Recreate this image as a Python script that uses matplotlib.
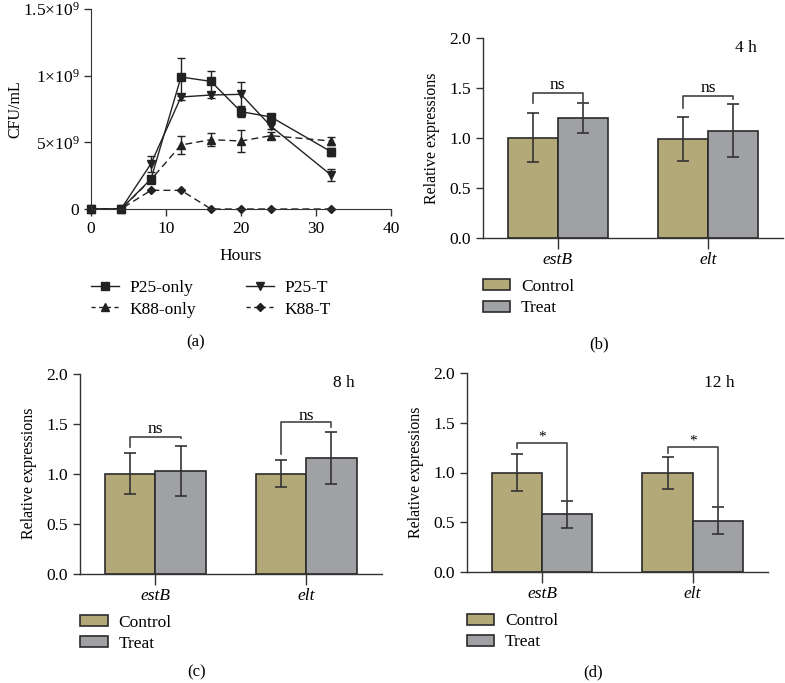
import matplotlib
matplotlib.use("Agg")
import matplotlib.pyplot as plt
from matplotlib.lines import Line2D
from matplotlib.patches import Patch
import numpy as np

plt.rcParams['font.family'] = ['Liberation Serif', 'DejaVu Serif']
plt.rcParams['mathtext.fontset'] = 'custom'
plt.rcParams['mathtext.rm'] = 'Liberation Serif'
plt.rcParams['mathtext.it'] = 'Liberation Serif:italic'
plt.rcParams['font.size'] = 12.5

# ---------------- data: panel (a) growth curves (CFU/mL, x1e9) ----------------
hours = [0, 4, 8, 12, 16, 20, 24, 32]
p25_only = [0, 0, 0.225, 0.99, 0.957, 0.73, 0.69, 0.43]
p25_only_err = [0, 0, 0.02, 0.145, 0.08, 0.04, 0.02, 0.03]
p25_t = [0, 0, 0.34, 0.84, 0.855, 0.86, 0.62, 0.255]
p25_t_err = [0, 0, 0.06, 0.02, 0.02, 0.095, 0.02, 0.045]
k88_only = [0, 0, 0.22, 0.48, 0.52, 0.51, 0.55, 0.51]
k88_only_err = [0, 0, 0.02, 0.065, 0.05, 0.08, 0.025, 0.03]
k88_t = [0, 0, 0.14, 0.14, 0, 0, 0, 0]
k88_t_err = [0, 0, 0, 0, 0, 0, 0, 0]
yticks_a = [0, 0.5, 1.0, 1.5]
ytick_labels_a = ['0', r'5×10$^{9}$', r'1×10$^{9}$', r'1.5×10$^{9}$']

# ---------------- data: relative expressions ----------------
genes = ['estB', 'elt']
ctrl_4h = [1.0, 0.99]
ctrl_4h_err = [0.245, 0.22]
treat_4h = [1.20, 1.07]
treat_4h_err = [0.15, 0.265]

ctrl_8h = [1.0, 1.0]
ctrl_8h_err = [0.205, 0.137]
treat_8h = [1.03, 1.16]
treat_8h_err = [0.25, 0.26]

ctrl_12h = [1.0, 0.995]
ctrl_12h_err = [0.19, 0.16]
treat_12h = [0.58, 0.515]
treat_12h_err = [0.135, 0.135]

sig_4h = ['ns', 'ns']
sig_8h = ['ns', 'ns']
sig_12h = ['*', '*']

W, H = 785, 683
fig = plt.figure(figsize=(W / 100, H / 100), dpi=100)

def ax_px(x0, x1, ytop, ybot):
    return fig.add_axes([x0 / W, 1 - ybot / H, (x1 - x0) / W, (ybot - ytop) / H])

dark = '#222222'
ctrl_color = '#b3a877'
treat_color = '#a0a1a5'
edge = '#2b2b2b'

# ---------------- panel (a) ----------------
axa = ax_px(91, 391, 9, 209)
line_kw = dict(color=dark, lw=1.0, markersize=5.5, capsize=3, elinewidth=1.0, capthick=1.0, ecolor=dark)
axa.errorbar(hours, p25_only, yerr=p25_only_err, marker='s', ls='-', label='P25-only', **line_kw)
axa.errorbar(hours, k88_only, yerr=k88_only_err, marker='^', ls=(0, (5, 3)), label='K88-only', **line_kw)
axa.errorbar(hours, p25_t, yerr=p25_t_err, marker='v', ls='-', label='P25-T', **line_kw)
axa.errorbar(hours, k88_t, yerr=k88_t_err, marker='D', ls=(0, (5, 3)), label='K88-T',
             **{**line_kw, 'markersize': 4})
axa.set_xlim(0, 40)
axa.set_ylim(0, 1.5)
axa.set_xticks([0, 10, 20, 30, 40])
axa.set_yticks(yticks_a)
axa.set_yticklabels(ytick_labels_a)
axa.set_xlabel('Hours', labelpad=8)
axa.set_ylabel('CFU/mL', fontsize=11.5)
axa.yaxis.set_label_coords(-0.225, 0.5)
for s in ['top', 'right']:
    axa.spines[s].set_visible(False)
for s in ['left', 'bottom']:
    axa.spines[s].set_color('#333333')
axa.tick_params(direction='out', length=5, width=1, colors='#333333', labelcolor='black')
for t in axa.get_lines():
    t.set_clip_on(False)
leg_h = [Line2D([], [], color=dark, lw=1.0, marker='s', markersize=5.5),
         Line2D([], [], color=dark, lw=1.0, marker='^', markersize=5.5, ls=(0, (3, 2.5))),
         Line2D([], [], color=dark, lw=1.0, marker='v', markersize=5.5),
         Line2D([], [], color=dark, lw=1.0, marker='D', markersize=4, ls=(0, (3, 2.5)))]
axa.legend(leg_h, ['P25-only', 'K88-only', 'P25-T', 'K88-T'], ncol=2, frameon=False,
           loc='upper left', bbox_to_anchor=(0.0, -0.355), borderaxespad=0, borderpad=0,
           handlelength=1.6, handletextpad=0.6, columnspacing=2.9, labelspacing=0.3)

# ---------------- bar panels ----------------
def bar_panel(x0, x1, ytop, ybot, ctrl, ctrl_err, treat, treat_err, label, label_xy, sigs, brackets):
    ax = ax_px(x0, x1, ytop, ybot)
    x = np.arange(len(genes))
    w = 1 / 3
    ax.bar(x - w / 2, ctrl, w, color=ctrl_color, edgecolor=edge, lw=1.2, zorder=2)
    ax.bar(x + w / 2, treat, w, color=treat_color, edgecolor=edge, lw=1.2, zorder=2)
    ek = dict(fmt='none', ecolor='#333333', elinewidth=1.2, capsize=4.5, capthick=1.2, zorder=3)
    ax.errorbar(x - w / 2, ctrl, yerr=ctrl_err, **ek)
    ax.errorbar(x + w / 2, treat, yerr=treat_err, **ek)
    ax.set_xlim(-0.5, 1.5)
    ax.set_ylim(0, 2.0)
    ax.set_yticks([0, 0.5, 1.0, 1.5, 2.0])
    ax.set_yticklabels(['0.0', '0.5', '1.0', '1.5', '2.0'])
    ax.set_xticks(x)
    ax.set_xticklabels(genes, style='italic')
    ax.set_ylabel('Relative expressions', labelpad=7, fontsize=11.5)
    for s in ['top', 'right']:
        ax.spines[s].set_visible(False)
    for s in ['left', 'bottom']:
        ax.spines[s].set_color('#333333')
        ax.spines[s].set_linewidth(1.0)
    ax.tick_params(direction='out', length=5, width=1, colors='#333333', labelcolor='black')
    ax.tick_params(axis='x', length=8, pad=2)
    ax.text(label_xy[0], label_xy[1], label, ha='center', va='center')
    for i, (sig, (yb, yl, yr, yt)) in enumerate(zip(sigs, brackets)):
        xl, xr = x[i] - w / 2, x[i] + w / 2
        ax.plot([xl, xl, xr, xr], [yl, yb, yb, yr], color='#444444', lw=1.2, zorder=4)
        ax.text((xl + xr) / 2, yt, sig, ha='center', va='center',
                fontsize=12.5 if sig == 'ns' else 11)
    handles = [Patch(facecolor=ctrl_color, edgecolor=edge, lw=1.2),
               Patch(facecolor=treat_color, edgecolor=edge, lw=1.2)]
    ax.legend(handles, ['Control', 'Treat'], frameon=False, loc='upper left',
              bbox_to_anchor=(0.0, -0.205), borderaxespad=0, borderpad=0,
              handlelength=1.6, handleheight=0.6, handletextpad=0.6, labelspacing=0.3)
    return ax

# (b) 4 h
bar_panel(482.7, 783, 37.7, 238, ctrl_4h, ctrl_4h_err, treat_4h, treat_4h_err, '4 h', (1.25, 1.9),
          sig_4h, [(1.445, 1.345, 1.345, 1.53), (1.414, 1.295, 1.39, 1.50)])
# (c) 8 h
bar_panel(80, 381.7, 373.7, 573.7, ctrl_8h, ctrl_8h_err, treat_8h, treat_8h_err, '8 h', (1.25, 1.91),
          sig_8h, [(1.367, 1.27, 1.353, 1.45), (1.517, 1.2, 1.47, 1.58)])
# (d) 12 h
bar_panel(466.7, 768, 372.7, 572.3, ctrl_12h, ctrl_12h_err, treat_12h, treat_12h_err, '12 h', (1.18, 1.9),
          sig_12h, [(1.30, 1.242, 0.718, 1.36), (1.259, 1.199, 0.648, 1.315)])

# captions
for txt, (px, py) in zip(['(a)', '(b)', '(c)', '(d)'],
                         [(196, 342), (599, 344), (197, 672), (593, 672)]):
    fig.text(px / W, 1 - py / H, txt, ha='center', va='center', fontsize=12)

fig.savefig('out.png', dpi=100)
